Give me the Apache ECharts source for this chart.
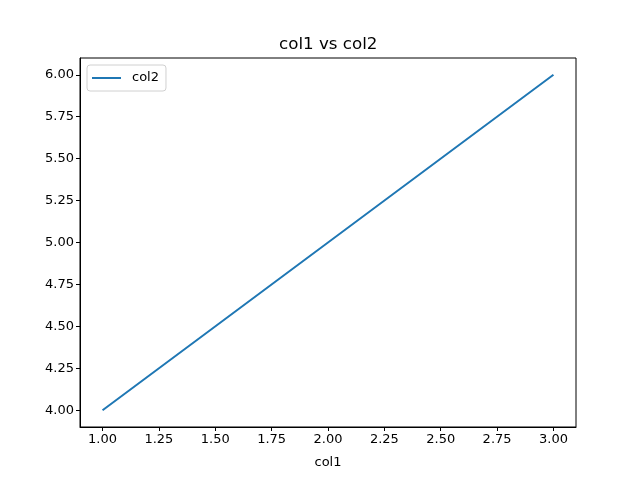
<!DOCTYPE html>
<html>
<head>
<meta charset="utf-8">
<script src="https://cdn.jsdelivr.net/npm/echarts@6/dist/echarts.min.js"></script>
<style>
  html, body { margin: 0; padding: 0; background: #fff; }
  #chart { width: 640px; height: 480px; }
</style>
</head>
<body>
<div id="chart"></div>
<script>
// data
const col1 = [1, 2, 3]
const col2 = [4, 5, 6]
const xTicks = [1.0, 1.25, 1.5, 1.75, 2.0, 2.25, 2.5, 2.75, 3.0]
const yTicks = [4.0, 4.25, 4.5, 4.75, 5.0, 5.25, 5.5, 5.75, 6.0]

const font = 'DejaVu Sans'
const chart = echarts.init(document.getElementById('chart'))

chart.setOption({
  animation: false,
  textStyle: { fontFamily: font },
  title: {
    text: 'col1 vs col2',
    left: 279,
    top: 36,
    padding: 0,
    textStyle: { fontFamily: font, fontSize: 16.7, fontWeight: 'normal', color: '#000' }
  },
  legend: {
    data: [{ name: 'col2', icon: 'rect' }],
    left: 87,
    top: 65,
    padding: [6, 7, 6, 5],
    itemWidth: 29,
    itemHeight: 2,
    borderColor: '#d0d0d0',
    borderWidth: 1,
    borderRadius: 3,
    backgroundColor: '#fff',
    textStyle: { fontFamily: font, fontSize: 13, color: '#000', padding: [0, 0, 0, 6], lineHeight: 14 }
  },
  grid: {
    left: 80,
    right: 64,
    top: 58,
    bottom: 53,
    show: true,
    borderColor: '#000',
    borderWidth: 1
  },
  xAxis: {
    type: 'value',
    min: 0.9,
    max: 3.1,
    name: 'col1',
    nameLocation: 'middle',
    nameGap: 29,
    nameTextStyle: { fontFamily: font, fontSize: 13, color: '#000' },
    axisLine: { show: true, lineStyle: { color: '#000', width: 1 } },
    axisTick: { show: true, length: 4, inside: false, customValues: xTicks, lineStyle: { color: '#000' } },
    axisLabel: {
      customValues: xTicks,
      margin: 6,
      color: '#000',
      fontSize: 13,
      fontFamily: font,
      formatter: v => v.toFixed(2)
    },
    splitLine: { show: false }
  },
  yAxis: {
    type: 'value',
    min: 3.9,
    max: 6.1,
    axisLine: { show: true, lineStyle: { color: '#000', width: 1 } },
    axisTick: { show: true, length: 4, inside: false, customValues: yTicks, lineStyle: { color: '#000' } },
    axisLabel: {
      customValues: yTicks,
      margin: 6,
      color: '#000',
      fontSize: 13,
      fontFamily: font,
      formatter: v => v.toFixed(2)
    },
    splitLine: { show: false }
  },
  series: [{
    name: 'col2',
    type: 'line',
    data: col1.map((x, i) => [x, col2[i]]),
    symbol: 'none',
    lineStyle: { color: '#1f77b4', width: 2 },
    itemStyle: { color: '#1f77b4' }
  }]
})
</script>
</body>
</html>
